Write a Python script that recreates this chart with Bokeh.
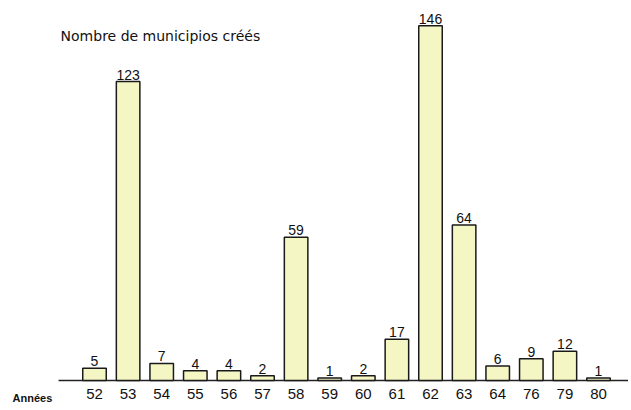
from bokeh.plotting import figure
from bokeh.models import ColumnDataSource, LabelSet, Label, Range1d
from bokeh.core.properties import value
from bokeh.embed import file_html
from bokeh.resources import INLINE

years = ["52", "53", "54", "55", "56", "57", "58", "59", "60", "61", "62", "63", "64", "76", "79", "80"]
counts = [5, 123, 7, 4, 4, 2, 59, 1, 2, 17, 146, 64, 6, 9, 12, 1]
title_text = "Nombre de municipios créés"
axis_text = "Années"

idx = list(range(len(years)))
src = ColumnDataSource(dict(x=idx, top=counts, lab=[str(c) for c in counts], yr=years))

unit = 33.6      # px per category
ppu = 2.43       # px per municipio
W, H = 628, 406
x0 = -94 / unit
x1 = x0 + W / unit
y0 = -(H - 380) / ppu
y1 = 380 / ppu

p = figure(width=W, height=H, output_backend="svg", toolbar_location=None,
           x_range=Range1d(x0, x1), y_range=Range1d(y0, y1),
           min_border_left=0, min_border_right=0, min_border_top=0, min_border_bottom=0)
p.outline_line_color = None
p.background_fill_color = "white"
p.border_fill_color = "white"
p.grid.visible = False
p.axis.visible = False

# baseline
p.segment(x0=[-1.07], y0=[0], x1=[x1], y1=[0], line_color="#222222", line_width=1.5)

p.vbar(x="x", top="top", bottom=0, width=0.7, source=src,
       fill_color="#f4f6c4", line_color="#1a1a1a", line_width=1.5)

p.add_layout(LabelSet(x="x", y="top", text="lab", source=src, text_align="center",
                      text_baseline="bottom", y_offset=2, text_font=value("Liberation Sans"),
                      text_font_size="14px", text_color=value("#111111")))

p.add_layout(LabelSet(x="x", y=0, text="yr", source=src, text_align="center",
                      text_baseline="top", y_offset=-8, text_font=value("Liberation Sans"),
                      text_font_size="15px", text_color=value("#111111")))

p.add_layout(Label(x=-1.01, y=141.6, text=title_text, text_font="DejaVu Sans",
                   text_font_size="14px", text_baseline="middle", text_color="#111111"))
p.add_layout(Label(x=-2.44, y=-7.0, text=axis_text, text_font="Liberation Sans",
                   text_font_size="11px", text_font_style="bold",
                   text_baseline="middle", text_color="#111111"))

open("out.html", "w").write(file_html(p, INLINE))
